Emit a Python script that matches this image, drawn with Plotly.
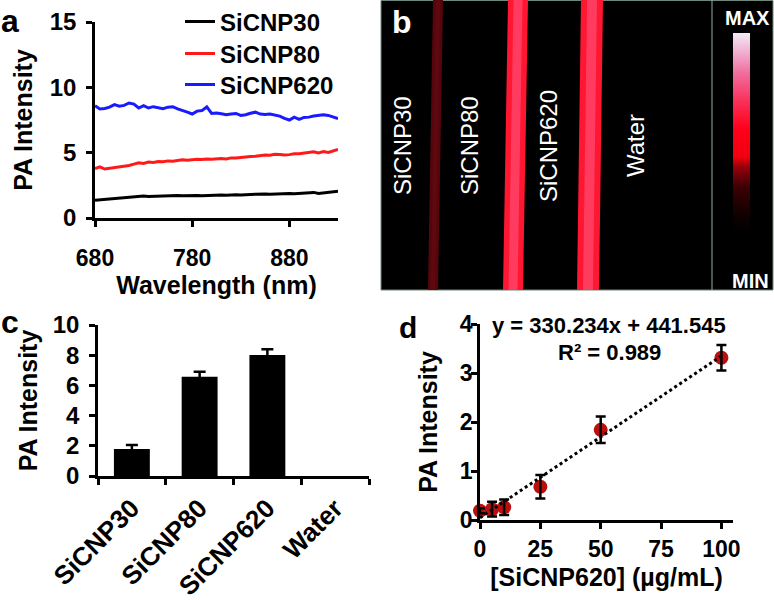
import plotly.graph_objects as go

# ---------------- data ----------------
# panel a: PA spectra
wavelength = [680, 685, 690, 695, 700, 705, 710, 715, 720, 725, 730, 735, 740, 745, 750,
              755, 760, 765, 770, 775, 780, 785, 790, 795, 800, 805, 810, 815, 820, 825,
              830, 835, 840, 845, 850, 855, 860, 865, 870, 875, 880, 885, 890, 895, 900,
              905, 910, 915, 920, 925, 930]
pa_sicnp30 = [1.35, 1.38, 1.40, 1.45, 1.48, 1.50, 1.55, 1.58, 1.60, 1.62, 1.68, 1.64, 1.66, 1.65, 1.68,
              1.67, 1.70, 1.72, 1.70, 1.72, 1.74, 1.72, 1.70, 1.72, 1.70, 1.74, 1.76, 1.74, 1.78, 1.78,
              1.76, 1.80, 1.80, 1.82, 1.84, 1.83, 1.82, 1.84, 1.82, 1.86, 1.87, 1.86, 1.88, 1.90, 1.92,
              1.96, 1.88, 1.92, 1.95, 1.98, 2.04]
pa_sicnp80 = [3.78, 3.92, 3.75, 3.80, 3.82, 3.88, 3.95, 4.02, 4.12, 4.22, 4.18, 4.28, 4.25, 4.32, 4.30,
              4.37, 4.35, 4.42, 4.45, 4.42, 4.48, 4.50, 4.48, 4.52, 4.50, 4.53, 4.55, 4.52, 4.60, 4.60,
              4.65, 4.68, 4.70, 4.72, 4.78, 4.82, 4.80, 4.88, 4.86, 4.82, 4.85, 4.92, 4.92, 4.98, 5.00,
              5.06, 4.98, 5.08, 5.02, 5.12, 5.25]
pa_sicnp620 = [8.60, 8.35, 8.38, 8.48, 8.68, 8.55, 8.62, 8.80, 8.72, 8.42, 8.60, 8.42, 8.52, 8.44, 8.36,
               8.48, 8.52, 8.35, 8.25, 8.10, 7.96, 8.18, 8.22, 8.50, 8.00, 8.04, 7.98, 7.90, 7.96, 8.00,
               7.85, 7.90, 8.02, 8.10, 7.95, 7.92, 7.95, 7.85, 7.80, 7.62, 7.50, 7.72, 7.55, 7.70, 7.72,
               7.80, 7.84, 7.90, 7.85, 7.72, 7.60]
series_names = ["SiCNP30", "SiCNP80", "SiCNP620"]
series_colors = ["#000000", "#ff1a1a", "#1a1aff"]

# panel b: PA image (stripe positions in image pixels, x from left, top/bottom centres)
img_labels = ["SiCNP30", "SiCNP80", "SiCNP620", "Water"]
img_label_x = [21, 88, 167, 254]
stripe_top_center = [57, 137, 211]
stripe_bottom_center = [52, 132, 207]
stripe_width = [10, 20, 22]
stripe_color = ["rgb(85,6,12)", "rgb(255,22,48)", "rgb(255,22,48)"]
stripe_core_color = ["rgb(95,8,16)", "rgb(255,60,95)", "rgb(255,60,95)"]
cbar_scale = [[0.0, "rgb(0,0,0)"], [0.08, "rgb(15,0,0)"], [0.23, "rgb(60,0,5)"],
              [0.33, "rgb(150,0,10)"], [0.38, "rgb(240,0,15)"], [0.52, "rgb(255,0,25)"],
              [0.65, "rgb(250,45,85)"], [0.80, "rgb(240,110,160)"], [0.92, "rgb(240,185,215)"],
              [1.0, "rgb(245,235,245)"]]

# panel c: bar chart (Water shows no signal)
bar_cats = ["SiCNP30", "SiCNP80", "SiCNP620", "Water"]
bar_vals = [1.78, 6.58, 8.02, None]
bar_errs = [0.28, 0.33, 0.38, None]

# panel d: concentration series
conc = [0, 5, 10, 25, 50, 100]
conc_pa = [0.19, 0.22, 0.26, 0.68, 1.84, 3.31]
conc_err = [0.05, 0.15, 0.16, 0.24, 0.27, 0.26]
trend_x = [0, 100]
trend_y = [0.044, 3.347]
fit_eq = "y = 330.234x + 441.545"
fit_r2 = "R² = 0.989"

# ---------------- figure ----------------
W, H = 774, 600
FONT = "Liberation Sans, Arial, sans-serif"


def px_x(p):
    return p / W


def px_y(p):
    return 1 - p / H


fig = go.Figure()

# panel a lines (one legend box per series so the rows sit where the reference has them)
legend_ids = ["legend", "legend2", "legend3"]
legend_rows = [22, 54, 85]
for name, col, ys, lid in zip(series_names, series_colors,
                              [pa_sicnp30, pa_sicnp80, pa_sicnp620], legend_ids):
    fig.add_trace(go.Scatter(x=wavelength, y=ys, mode="lines", name=name, legend=lid,
                             line=dict(color=col, width=3), xaxis="x", yaxis="y"))

# panel b stripes
for i in range(len(stripe_width)):
    t, b, w = stripe_top_center[i], stripe_bottom_center[i], stripe_width[i]
    fig.add_trace(go.Scatter(
        x=[t - w / 2, t + w / 2, b + w / 2, b - w / 2, t - w / 2],
        y=[290, 290, 0, 0, 290], mode="lines", fill="toself",
        fillcolor=stripe_color[i], line=dict(width=0, color=stripe_color[i]),
        showlegend=False, hoverinfo="skip", xaxis="x4", yaxis="y4"))
    cw = w * 0.45
    fig.add_trace(go.Scatter(
        x=[t - cw / 2, t + cw / 2, b + cw / 2, b - cw / 2, t - cw / 2],
        y=[290, 290, 0, 0, 290], mode="lines", fill="toself",
        fillcolor=stripe_core_color[i], line=dict(width=0, color=stripe_core_color[i]),
        showlegend=False, hoverinfo="skip", xaxis="x4", yaxis="y4"))

# colorbar carrier (off-range point)
fig.add_trace(go.Scatter(
    x=[-50, -50], y=[-50, -50], mode="markers", showlegend=False, hoverinfo="skip",
    marker=dict(color=[0, 1], cmin=0, cmax=1, colorscale=cbar_scale, showscale=True, size=1,
                colorbar=dict(x=px_x(733), xanchor="left", xref="paper", xpad=0,
                              y=px_y(133), yanchor="middle", yref="paper", ypad=0,
                              len=200, lenmode="pixels", thickness=17, thicknessmode="pixels",
                              outlinewidth=0, showticklabels=False, ticks="",
                              bgcolor="rgba(0,0,0,0)", borderwidth=0)),
    xaxis="x4", yaxis="y4"))

# panel c bars
fig.add_trace(go.Bar(x=bar_cats, y=bar_vals, width=0.53, marker=dict(color="black", line=dict(width=0)),
                     error_y=dict(type="data", array=bar_errs, color="black", thickness=2.5, width=6),
                     showlegend=False, xaxis="x2", yaxis="y2"))

# panel d
fig.add_trace(go.Scatter(x=conc, y=conc_pa, mode="markers", showlegend=False, cliponaxis=False,
                         marker=dict(color="rgb(185,15,15)", size=14, line=dict(width=0)),
                         xaxis="x3", yaxis="y3"))
fig.add_trace(go.Scatter(x=conc, y=conc_pa, mode="markers", showlegend=False, cliponaxis=False,
                         marker=dict(color="rgba(0,0,0,0)", size=1),
                         error_y=dict(type="data", array=conc_err, color="black", thickness=2.5, width=5),
                         xaxis="x3", yaxis="y3"))
fig.add_trace(go.Scatter(x=trend_x, y=trend_y, mode="lines", showlegend=False, cliponaxis=False,
                         line=dict(color="black", width=3, dash="dot"),
                         xaxis="x3", yaxis="y3"))


def tf(size):
    return dict(family=FONT, size=size, color="black", weight="bold")


titlefont = tf(25)
axis_common = dict(showline=True, linecolor="black", linewidth=2.5, ticks="outside",
                   ticklen=6, tickwidth=2.5, tickcolor="black", showgrid=False, zeroline=False,
                   fixedrange=True, automargin=False)

legend_common = dict(xanchor="left", yanchor="middle", bgcolor="rgba(0,0,0,0)", borderwidth=0,
                     font=dict(family=FONT, size=24, color="black", weight="bold"), itemwidth=30)

fig.update_layout(
    template="none",
    width=W, height=H, margin=dict(l=0, r=0, t=0, b=0, autoexpand=False),
    paper_bgcolor="white", plot_bgcolor="rgba(0,0,0,0)",
    font=dict(family=FONT, color="black"),
    showlegend=True,
    legend=dict(x=px_x(180), y=px_y(legend_rows[0]), **legend_common),
    legend2=dict(x=px_x(180), y=px_y(legend_rows[1]), **legend_common),
    legend3=dict(x=px_x(180), y=px_y(legend_rows[2]), **legend_common),
    xaxis=dict(domain=[px_x(95), px_x(338)], range=[680, 930], tickvals=[680, 780, 880],
               anchor="y", title=dict(text="Wavelength (nm)", font=titlefont, standoff=1),
               tickfont=tf(23), ticklabelstandoff=12, **axis_common),
    yaxis=dict(domain=[px_y(218), px_y(22)], range=[0, 15], tickvals=[0, 5, 10, 15],
               anchor="x", title=dict(text="PA Intensity", font=titlefont, standoff=10),
               tickfont=tf(24), ticklabelstandoff=5, **axis_common),
    xaxis2=dict(domain=[px_x(98), px_x(369)], type="category", categoryorder="array",
                categoryarray=bar_cats, range=[-0.5, 3.5], tickson="boundaries",
                tickangle=-45, anchor="y2", tickfont=tf(26), ticklabelstandoff=4, **axis_common),
    yaxis2=dict(domain=[px_y(476), px_y(325)], range=[0, 10], tickvals=[0, 2, 4, 6, 8, 10],
                anchor="x2", title=dict(text="PA Intensity", font=titlefont, standoff=8),
                tickfont=tf(24), ticklabelstandoff=5, **axis_common),
    xaxis3=dict(domain=[px_x(480), px_x(733)], range=[0, 104.8], tickvals=[0, 25, 50, 75, 100],
                anchor="y3", title=dict(text="[SiCNP620] (µg/mL)", font=titlefont, standoff=8),
                tickfont=tf(23), ticklabelstandoff=1, **axis_common),
    yaxis3=dict(domain=[px_y(520), px_y(324)], range=[0, 4], tickvals=[0, 1, 2, 3, 4],
                anchor="x3", title=dict(text="PA Intensity", font=titlefont, standoff=16),
                tickfont=tf(23), ticklabelstandoff=-6, **axis_common),
    xaxis4=dict(domain=[px_x(381), px_x(712)], range=[0, 331], visible=False, anchor="y4",
                fixedrange=True, automargin=False),
    yaxis4=dict(domain=[px_y(290), px_y(0)], range=[0, 290], visible=False, anchor="x4",
                fixedrange=True, automargin=False),
)

# panel b background, border and divider
fig.add_shape(type="rect", xref="paper", yref="paper", x0=px_x(381), x1=px_x(773),
              y0=px_y(290), y1=px_y(0.5), fillcolor="black",
              line=dict(color="rgb(110,135,125)", width=1), layer="below")
fig.add_shape(type="line", xref="paper", yref="paper", x0=px_x(712), x1=px_x(712),
              y0=px_y(290), y1=px_y(0), line=dict(color="rgb(150,170,170)", width=1))


def note(x, y, text, font, **kw):
    fig.add_annotation(x=px_x(x), y=px_y(y), xref="paper", yref="paper", text=text,
                       showarrow=False, xanchor="center", yanchor="middle", font=font, **kw)


# panel b labels
for lab, lx in zip(img_labels, img_label_x):
    note(381 + lx, 146, lab, dict(family=FONT, size=24, color="white"), textangle=-90)
note(747, 18, "MAX", dict(family=FONT, size=20, color="white", weight="bold"))
note(750, 281, "MIN", dict(family=FONT, size=20, color="white", weight="bold"))

# panel letters
note(10, 21, "a", tf(32))
note(402, 22, "b", dict(family=FONT, size=32, color="white", weight="bold"))
note(10, 322, "c", tf(32))
note(408, 327, "d", tf(30))

# fit equation
note(609, 325, fit_eq, tf(22))
note(609, 352, fit_r2, tf(22))

fig.write_html("out.html", config={"displayModeBar": False},
               post_script="document.body.style.margin='0';")
